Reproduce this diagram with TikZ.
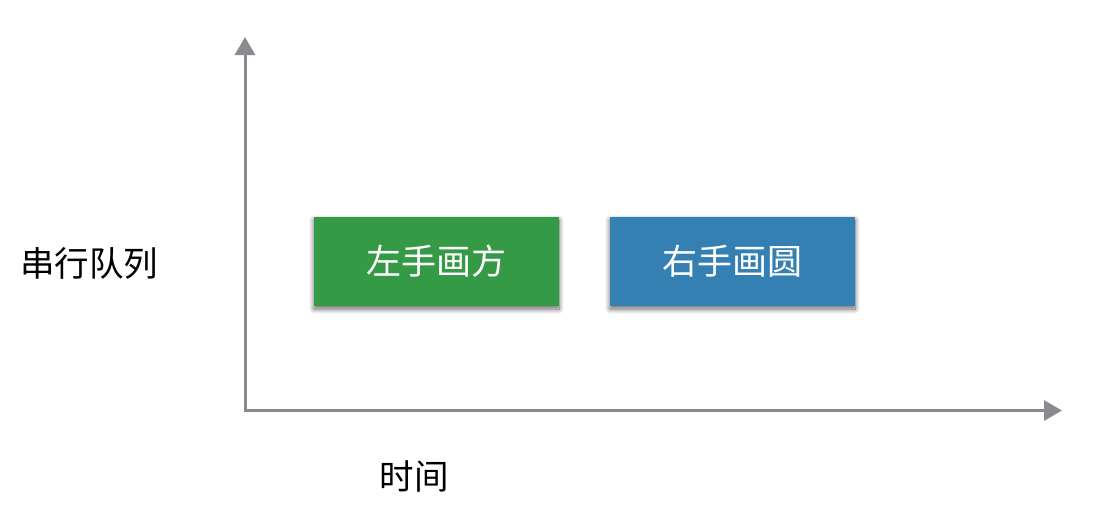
\documentclass[tikz,border=0pt]{standalone}
\usepackage{fontspec}
\newfontfamily\cjk{Noto Sans CJK SC}
\usetikzlibrary{arrows.meta,shadows.blur}
\definecolor{axisgray}{HTML}{8A8B8F}
\definecolor{boxgreen}{HTML}{359A46}
\definecolor{boxblue}{HTML}{3580B2}
\tikzset{
  axis/.style={draw=axisgray, line width=3pt, -{Triangle[length=18pt,width=20pt]}},
  taskbox/.style={minimum width=245pt, minimum height=89pt, inner sep=0pt,
    text=white, font=\cjk\fontsize{35}{40}\selectfont,
    blur shadow={shadow xshift=0pt, shadow yshift=-3pt, shadow blur radius=5pt, shadow blur steps=10, shadow opacity=60}},
  label/.style={text=black, font=\cjk\fontsize{34.5}{40}\selectfont, inner sep=0pt}
}
\begin{document}
\begin{tikzpicture}[x=1pt,y=-1pt]
\useasboundingbox (0,0) rectangle (1118,512);
\coordinate (origin) at (245,410.5);
\coordinate (ytip) at (245,37);
\coordinate (xtip) at (1062,410.5);
\draw[axis] ([yshift=-1.5pt]origin) -- (ytip);
\draw[axis] ([xshift=-1.5pt]origin) -- (xtip);
\node[taskbox, fill=boxgreen] (left) at (436.5,261.5) {左手画方};
\node[taskbox, fill=boxblue] (right) at (732.5,261.5) {右手画圆};
\node[label] (serial) at (89,263) {串行队列};
\node[label] (time) at (414,476) {时间};
\end{tikzpicture}
\end{document}
